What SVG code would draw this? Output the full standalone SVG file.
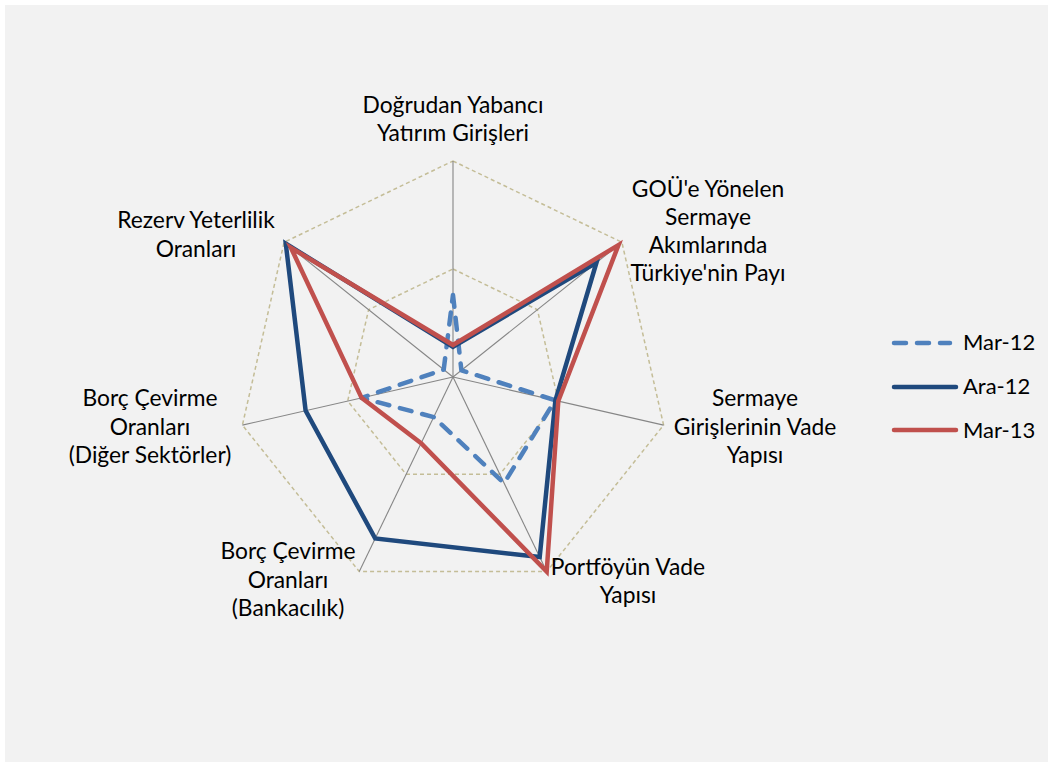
<svg xmlns="http://www.w3.org/2000/svg" width="1053" height="767" viewBox="0 0 1053 767">
<style>
.lbl{font-family:Lato,"Open Sans","Liberation Sans",sans-serif;font-size:22.8px;fill:#000;text-anchor:middle}
.leg{font-family:Lato,"Open Sans","Liberation Sans",sans-serif;font-size:22px;fill:#000}
.grid{fill:none;stroke:#c4bd97;stroke-width:1.5;stroke-dasharray:4 3}
.axis{stroke:#868686;stroke-width:1.1}
.s1{fill:none;stroke:#4f81bd;stroke-width:4.5;stroke-dasharray:12 11;stroke-linecap:round;stroke-linejoin:round}
.s2{fill:none;stroke:#1f497d;stroke-width:4.5;stroke-linejoin:miter;stroke-linecap:round}
.s3{fill:none;stroke:#c0504d;stroke-width:4.5;stroke-linejoin:miter;stroke-linecap:round}
</style>
<rect x="0" y="0" width="1053" height="767" fill="#ffffff"/>
<rect x="5" y="5" width="1043" height="757" fill="#f2f2f2"/>
<g id="grid">
<polygon class="grid" points="453,161 621.9,242.3 663.6,425.1 546.7,571.6 359.3,571.6 242.4,425.1 284.1,242.3"/>
<polygon class="grid" points="453,269 537.4,309.7 558.3,401 499.9,474.3 406.1,474.3 347.7,401 368.6,309.7"/>
<line class="axis" x1="453" y1="377" x2="453" y2="161"/>
<line class="axis" x1="453" y1="377" x2="621.9" y2="242.3"/>
<line class="axis" x1="453" y1="377" x2="663.6" y2="425.1"/>
<line class="axis" x1="453" y1="377" x2="546.7" y2="571.6"/>
<line class="axis" x1="453" y1="377" x2="359.3" y2="571.6"/>
<line class="axis" x1="453" y1="377" x2="242.4" y2="425.1"/>
<line class="axis" x1="453" y1="377" x2="284.1" y2="242.3"/>
</g>
<g id="connectors">
<polygon id="series-mar12" class="s1" points="453,294.9 461.4,370.3 555.1,400.3 504.1,483.1 433.7,417.1 361.6,397.9 443.7,369.6"/>
<polygon id="series-ara12" class="s2" points="453,346.8 596.5,262.5 555.4,400.4 539.7,557 375.2,538.5 305.6,410.6 285.8,243.7"/>
<polygon id="series-mar13" class="s3" points="453,345 618.5,245 558.3,401 546.7,571.6 421.1,443.2 361.6,397.9 290.9,247.7"/>
</g>
<g id="label-dyg">
<text class="lbl" x="453" y="113">Doğrudan Yabancı</text>
<text class="lbl" x="453" y="141">Yatırım Girişleri</text>
</g>
<g id="label-gou">
<text class="lbl" x="708" y="197">GOÜ'e Yönelen</text>
<text class="lbl" x="708" y="225">Sermaye</text>
<text class="lbl" x="708" y="253">Akımlarında</text>
<text class="lbl" x="708" y="281">Türkiye'nin Payı</text>
</g>
<g id="label-svy">
<text class="lbl" x="755" y="406">Sermaye</text>
<text class="lbl" x="755" y="435">Girişlerinin Vade</text>
<text class="lbl" x="755" y="463">Yapısı</text>
</g>
<g id="label-pvy">
<text class="lbl" x="628" y="575">Portföyün Vade</text>
<text class="lbl" x="628" y="603">Yapısı</text>
</g>
<g id="label-bcb">
<text class="lbl" x="288" y="559">Borç Çevirme</text>
<text class="lbl" x="288" y="588">Oranları</text>
<text class="lbl" x="288" y="616">(Bankacılık)</text>
</g>
<g id="label-bcd">
<text class="lbl" x="150" y="406">Borç Çevirme</text>
<text class="lbl" x="150" y="435">Oranları</text>
<text class="lbl" x="150" y="463">(Diğer Sektörler)</text>
</g>
<g id="label-ryo">
<text class="lbl" x="196" y="228">Rezerv Yeterlilik</text>
<text class="lbl" x="196" y="257">Oranları</text>
</g>
<g id="legend">
<line class="s1" x1="894" y1="343" x2="950" y2="343" stroke-dasharray="11 9.5"/>
<line class="s2" x1="894" y1="387" x2="956" y2="387"/>
<line class="s3" x1="894" y1="430" x2="956" y2="430"/>
<text class="leg" x="963" y="350">Mar-12</text>
<text class="leg" x="963" y="394">Ara-12</text>
<text class="leg" x="963" y="438">Mar-13</text>
</g>
</svg>
